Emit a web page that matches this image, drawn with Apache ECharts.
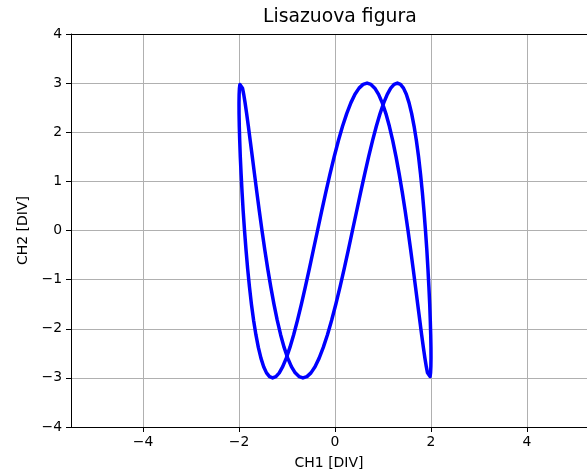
<!DOCTYPE html>
<html>
<head>
<meta charset="utf-8">
<script src="https://cdn.jsdelivr.net/npm/echarts@6/dist/echarts.min.js"></script>
<style>
html,body{margin:0;padding:0;background:#fff;overflow:hidden;}
#c{width:587px;height:475px;}
</style>
</head>
<body>
<div id="c"></div>
<script>
// Lissajous figure, points
const chX = [
  0.364,0.450,0.534,0.618,0.700,0.781,0.861,0.939,1.015,1.089,1.161,1.231,
  1.299,1.364,1.427,1.486,1.543,1.597,1.648,1.696,1.741,1.782,1.820,1.854,
  1.885,1.913,1.936,1.956,1.973,1.985,1.994,1.999,2.000,1.997,1.991,1.981,
  1.967,1.949,1.927,1.902,1.873,1.841,1.805,1.766,1.723,1.677,1.628,1.576,
  1.521,1.463,1.402,1.338,1.272,1.204,1.133,1.060,0.985,0.908,0.829,0.749,
  0.668,0.585,0.501,0.416,0.330,0.244,0.157,0.070,-0.017,-0.105,-0.192,-0.278,
  -0.364,-0.450,-0.534,-0.618,-0.700,-0.781,-0.861,-0.939,-1.015,-1.089,-1.161,-1.231,
  -1.299,-1.364,-1.427,-1.486,-1.543,-1.597,-1.648,-1.696,-1.741,-1.782,-1.820,-1.854,
  -1.885,-1.913,-1.936,-1.956,-1.973,-1.985,-1.994,-1.999,-2.000,-1.997,-1.991,-1.981,
  -1.967,-1.949,-1.927,-1.902,-1.873,-1.841,-1.805,-1.766,-1.723,-1.677,-1.628,-1.576,
  -1.521,-1.463,-1.402,-1.338,-1.272,-1.204,-1.133,-1.060,-0.985,-0.908,-0.829,-0.749,
  -0.668,-0.585,-0.501,-0.416,-0.330,-0.244,-0.157,-0.070,0.017,0.105,0.192,0.278,
  0.364];
const chY = [
  0,0.392,0.776,1.148,1.500,1.826,2.121,2.380,2.598,2.772,2.898,2.974,
  3.000,2.974,2.898,2.772,2.598,2.380,2.121,1.826,1.500,1.148,0.776,0.392,
  0,-0.392,-0.776,-1.148,-1.500,-1.826,-2.121,-2.380,-2.598,-2.772,-2.898,-2.974,
  -3.000,-2.974,-2.898,-2.772,-2.598,-2.380,-2.121,-1.826,-1.500,-1.148,-0.776,-0.392,
  0,0.392,0.776,1.148,1.500,1.826,2.121,2.380,2.598,2.772,2.898,2.974,
  3.000,2.974,2.898,2.772,2.598,2.380,2.121,1.826,1.500,1.148,0.776,0.392,
  0,-0.392,-0.776,-1.148,-1.500,-1.826,-2.121,-2.380,-2.598,-2.772,-2.898,-2.974,
  -3.000,-2.974,-2.898,-2.772,-2.598,-2.380,-2.121,-1.826,-1.500,-1.148,-0.776,-0.392,
  0,0.392,0.776,1.148,1.500,1.826,2.121,2.380,2.598,2.772,2.898,2.974,
  3.000,2.974,2.898,2.772,2.598,2.380,2.121,1.826,1.500,1.148,0.776,0.392,
  0,-0.392,-0.776,-1.148,-1.500,-1.826,-2.121,-2.380,-2.598,-2.772,-2.898,-2.974,
  -3.000,-2.974,-2.898,-2.772,-2.598,-2.380,-2.121,-1.826,-1.500,-1.148,-0.776,-0.392,
  0];
const xTicks = [-4,-2,0,2,4];
const yTicks = [-4,-3,-2,-1,0,1,2,3,4];
const titleText = 'Lisazuova figura';
const xName = 'CH1 [DIV]';
const yName = 'CH2 [DIV]';

const pts = chX.map((x,i)=>[x, chY[i]]);
const fmt = v => String(v).replace('-', '\u2212');
const FONT = 'DejaVu Sans';
const X_MIN = -5.5, X_MAX = 5.25;

const chart = echarts.init(document.getElementById('c'), null, {renderer:'canvas'});
chart.setOption({
  animation:false,
  backgroundColor:'#fff',
  title:{
    text:titleText, left:263, top:8, padding:0,
    textStyle:{fontFamily:FONT, fontSize:18.8, fontWeight:'normal', color:'#000'}
  },
  grid:{left:71, top:34, right:0, bottom:48, containLabel:false},
  xAxis:[{
    type:'value', min:X_MIN, max:X_MAX, position:'bottom',
    name:xName, nameLocation:'middle', nameGap:29,
    nameTextStyle:{fontFamily:FONT, fontSize:14, color:'#000'},
    axisLine:{show:true, onZero:false, lineStyle:{color:'#000', width:1}},
    axisTick:{show:true, inside:false, length:5, customValues:xTicks, lineStyle:{color:'#000', width:1}},
    axisLabel:{customValues:xTicks, formatter:fmt, fontFamily:FONT, fontSize:13.9, color:'#000', margin:8},
    splitLine:{show:true, lineStyle:{color:'#b0b0b0', width:1}}
  },{
    type:'value', min:X_MIN, max:X_MAX, position:'top',
    axisLine:{show:true, onZero:false, lineStyle:{color:'#000', width:1}},
    axisTick:{show:false}, axisLabel:{show:false}, splitLine:{show:false}
  }],
  yAxis:{
    type:'value', min:yTicks[0], max:yTicks[yTicks.length-1], interval:1,
    name:yName, nameLocation:'middle', nameGap:40,
    nameTextStyle:{fontFamily:FONT, fontSize:14, color:'#000'},
    axisLine:{show:true, onZero:false, lineStyle:{color:'#000', width:1}},
    axisTick:{show:true, inside:false, length:5, lineStyle:{color:'#000', width:1}},
    axisLabel:{formatter:fmt, fontFamily:FONT, fontSize:13.9, color:'#000', margin:9},
    splitLine:{show:true, lineStyle:{color:'#b0b0b0', width:1}}
  },
  series:[{
    type:'line', xAxisIndex:0, data:pts, showSymbol:false, smooth:false,
    lineStyle:{color:'#0000ff', width:3.5, join:'round'}, itemStyle:{color:'#0000ff'},
    clip:true
  }]
});
</script>
</body>
</html>
